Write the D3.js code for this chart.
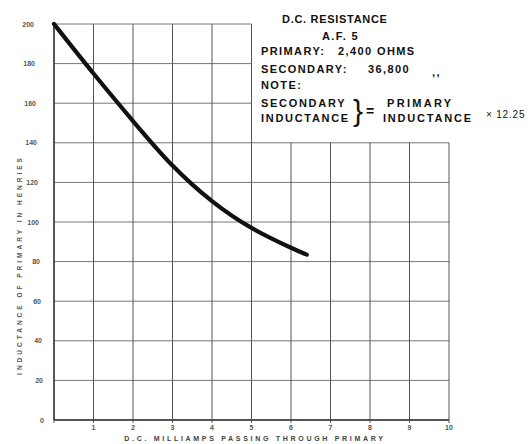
<!doctype html>
<html>
<head>
<meta charset="utf-8">
<title>A.F. 5 inductance</title>
<script src="https://cdn.jsdelivr.net/npm/d3@7"></script>
<style>
  body { margin: 0; background: #fff; }
  svg { font-family: "Liberation Sans", Arial, sans-serif; }
  .grid line { stroke: #555; stroke-width: 1; }
  .grid .h { stroke: #777; }
  .tick-label { font-size: 7px; font-weight: bold; fill: #555; }
  .note { font-weight: bold; fill: #111; font-size: 11px; letter-spacing: 1.4px; }
</style>
</head>
<body>
<script>
// values
var milliamps = [0, 1, 2, 3, 4, 5, 6, 6.4];
var henries = [200, 175, 151, 128.5, 110.5, 97, 87, 83.5];

var xTicks = [1, 2, 3, 4, 5, 6, 7, 8, 9, 10];
var yTicks = [0, 20, 40, 60, 80, 100, 120, 140, 160, 180, 200];

var xTitle = "D.C. MILLIAMPS PASSING THROUGH PRIMARY";
var yTitle = "INDUCTANCE OF PRIMARY IN HENRIES";

var width = 532, height = 444;

var x = d3.scaleLinear().domain([0, 10]).range([54, 449]);
var y = d3.scaleLinear().domain([0, 200]).range([420, 24]);

var svg = d3.select("body").append("svg")
    .attr("width", width)
    .attr("height", height);

// the grid is cut away top right to make room for the notes
var grid = svg.append("g").attr("class", "grid");

grid.selectAll("line.h")
    .data(yTicks)
    .enter().append("line")
    .attr("class", "h")
    .attr("x1", x(0))
    .attr("x2", function(d) { return d > 140 ? x(5) : x(10); })
    .attr("y1", function(d) { return y(d); })
    .attr("y2", function(d) { return y(d); });

grid.selectAll("line.v")
    .data([0].concat(xTicks))
    .enter().append("line")
    .attr("class", "v")
    .attr("x1", function(d) { return x(d); })
    .attr("x2", function(d) { return x(d); })
    .attr("y1", y(0) + 3)
    .attr("y2", function(d) { return d > 5 ? y(140) : y(200); });

// frame on the axes
svg.append("line")
    .attr("x1", x(0)).attr("x2", x(10))
    .attr("y1", y(0)).attr("y2", y(0))
    .attr("stroke", "#333").attr("stroke-width", 1.6);
svg.append("line")
    .attr("x1", x(0)).attr("x2", x(0))
    .attr("y1", y(0)).attr("y2", y(200))
    .attr("stroke", "#333").attr("stroke-width", 1.4);

// tick labels
svg.selectAll("text.ylab")
    .data(yTicks)
    .enter().append("text")
    .attr("class", "tick-label ylab")
    .attr("x", function(d) { return 44 - d * 0.05; })
    .attr("y", function(d) { return y(d) + 2.5; })
    .attr("text-anchor", "end")
    .text(function(d) { return d; });

svg.selectAll("text.xlab")
    .data(xTicks)
    .enter().append("text")
    .attr("class", "tick-label xlab")
    .attr("x", function(d) { return x(d); })
    .attr("y", y(0) + 10)
    .attr("text-anchor", "middle")
    .text(function(d) { return d; });

// axis titles
svg.append("text")
    .attr("x", 255).attr("y", 441)
    .attr("text-anchor", "middle")
    .attr("font-size", 7).attr("font-weight", "bold")
    .attr("letter-spacing", 2.7)
    .attr("fill", "#444")
    .text(xTitle);

svg.append("text")
    .attr("transform", "translate(22,265) rotate(-90)")
    .attr("text-anchor", "middle")
    .attr("font-size", 6.5).attr("font-weight", "bold")
    .attr("letter-spacing", 3)
    .attr("fill", "#555")
    .text(yTitle);

// curve
var line = d3.line()
    .x(function(d, i) { return x(milliamps[i]); })
    .y(function(d) { return y(d); })
    .curve(d3.curveNatural);

svg.append("path")
    .datum(henries)
    .attr("d", line)
    .attr("fill", "none")
    .attr("stroke", "#111")
    .attr("stroke-width", 4.2)
    .attr("stroke-linecap", "round");

// notes block
var notes = svg.append("g").attr("class", "note");
notes.append("text").attr("x", 282).attr("y", 23).attr("letter-spacing", 0.7).text("D.C. RESISTANCE");
notes.append("text").attr("x", 322).attr("y", 40).text("A.F. 5");
notes.append("text").attr("x", 261).attr("y", 55).text("PRIMARY:");
notes.append("text").attr("x", 338).attr("y", 55).text("2,400 OHMS");
notes.append("text").attr("x", 261).attr("y", 73).text("SECONDARY:");
notes.append("text").attr("x", 368).attr("y", 73).text("36,800");
notes.append("text").attr("x", 432).attr("y", 76).text(",,");
notes.append("text").attr("x", 261).attr("y", 89).text("NOTE:");
notes.append("text").attr("x", 261).attr("y", 107).attr("letter-spacing", 1.7).text("SECONDARY");
notes.append("text").attr("x", 261).attr("y", 122).attr("letter-spacing", 1.7).text("INDUCTANCE");
notes.append("text").attr("x", 353).attr("y", 121)
    .attr("font-size", 30).attr("font-weight", "normal").attr("letter-spacing", 0)
    .text("}");
notes.append("text").attr("x", 366).attr("y", 116)
    .attr("font-size", 14).attr("letter-spacing", 0)
    .text("=");
notes.append("text").attr("x", 387).attr("y", 107).attr("letter-spacing", 2.3).text("PRIMARY");
notes.append("text").attr("x", 383).attr("y", 122).attr("letter-spacing", 1.8).text("INDUCTANCE");
notes.append("text").attr("x", 486).attr("y", 118)
    .attr("font-size", 10).attr("font-weight", "normal").attr("letter-spacing", 0.8)
    .text("\u00D7 12.25");
</script>
</body>
</html>
